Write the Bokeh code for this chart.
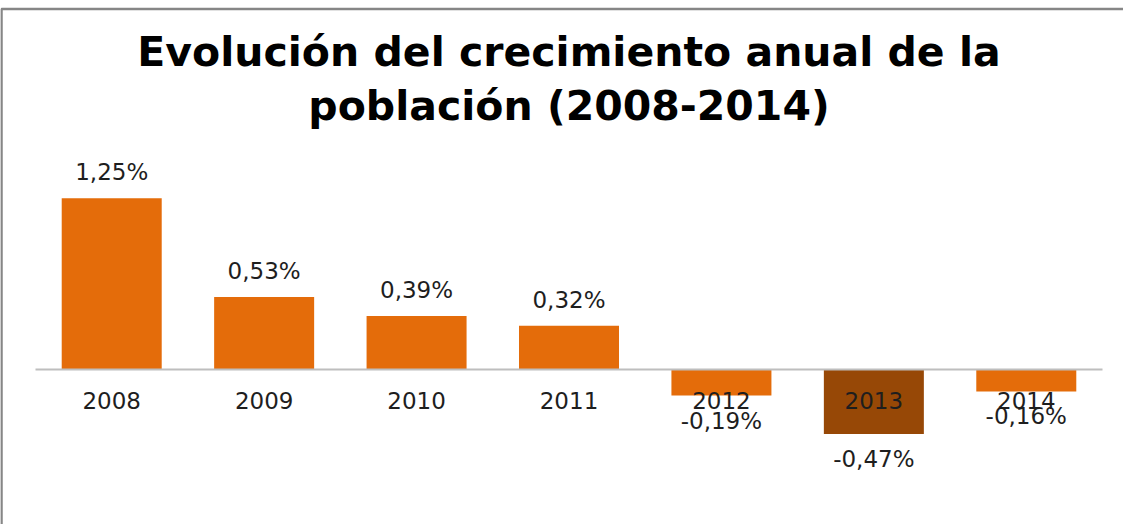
import numpy as np
from bokeh.plotting import figure
from bokeh.models import ColumnDataSource, Range1d, Label
from bokeh.core.properties import value
from bokeh.embed import file_html
from bokeh.resources import INLINE

# ---- data ----
categories = ["2008", "2009", "2010", "2011", "2012", "2013", "2014"]
growth = [1.25, 0.53, 0.39, 0.32, -0.19, -0.47, -0.16]
highlight = "2013"
title_lines = ["Evolución del crecimiento anual de la", "población (2008-2014)"]

ORANGE = "#E46C0A"
BROWN = "#974806"
FONT = "DejaVu Sans"

n = len(categories)
xs = np.arange(n) + 0.5
labels = [f"{v:.2f}%".replace(".", ",") for v in growth]
colors = [BROWN if c == highlight else ORANGE for c in categories]

W, H = 1123, 524
px_x = 1067 / n          # pixels per category slot
px_y = 137.0             # pixels per 1 %
zero_px = 369            # canvas px of zero line from top
left_px = 35             # canvas px of first slot start

x0 = -left_px / px_x
x1 = x0 + W / px_x
y1 = zero_px / px_y
y0 = y1 - H / px_y

p = figure(width=W, height=H, output_backend="svg", toolbar_location=None,
           x_range=Range1d(x0, x1), y_range=Range1d(y0, y1),
           x_axis_location=None, y_axis_location=None, min_border=0)
p.outline_line_color = None
p.xgrid.visible = False
p.ygrid.visible = False
p.background_fill_color = "white"
p.border_fill_color = "white"

src = ColumnDataSource(dict(x=xs, top=growth, color=colors, label=labels,
                            cat=categories, zero=[0] * n))

p.vbar(x="x", top="top", bottom=0, width=100 / px_x, fill_color="color",
       line_color=None, source=src)

# zero line
p.segment(x0=[0], y0=[0], x1=[n], y1=[0], line_color="#BEBEBE", line_width=2)

# outer frame (top and left edges)
xl = x0 + 1 / px_x
yt = y1 - 8.5 / px_y
p.line(x=[xl, xl, x1], y=[y0, yt, yt], line_color="#868686", line_width=2.5)

TXT = dict(text_font=value(FONT), text_font_size="23px", text_align="center",
           text_baseline="alphabetic", text_color="#1E1E1E")

# category labels
p.text(x="x", y="zero", text="cat", source=src, y_offset=31, **TXT)

# value labels
pos = ColumnDataSource(dict(x=[x for x, v in zip(xs, growth) if v >= 0],
                            y=[v for v in growth if v >= 0],
                            t=[l for l, v in zip(labels, growth) if v >= 0]))
neg = ColumnDataSource(dict(x=[x for x, v in zip(xs, growth) if v < 0],
                            y=[v for v in growth if v < 0],
                            t=[l for l, v in zip(labels, growth) if v < 0]))
p.text(x="x", y="y", text="t", source=pos, y_offset=-26, **TXT)
p.text(x="x", y="y", text="t", source=neg, y_offset=25, **TXT)

# title
for line, base in zip(title_lines, [51, 105]):
    p.add_layout(Label(x=n / 2, y=H - base, x_units="data", y_units="screen",
                       text=line, text_font=FONT, text_font_size="41px",
                       text_font_style="bold", text_align="center",
                       text_baseline="alphabetic", text_color="#000000"))

open("out.html", "w").write(file_html(p, INLINE))
